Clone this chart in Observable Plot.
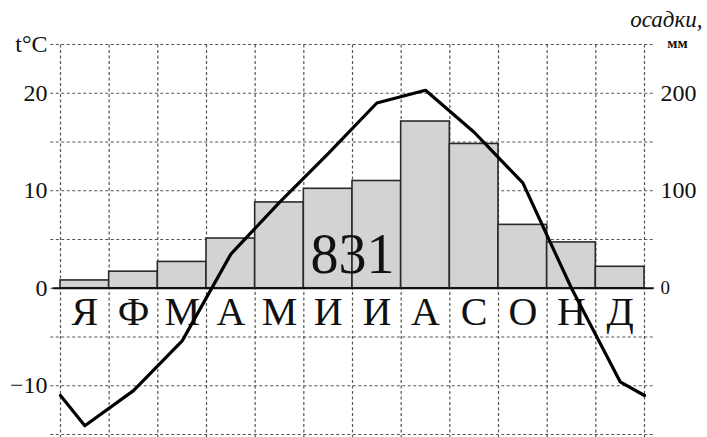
<!DOCTYPE html>
<html>
<head>
<meta charset="utf-8">
<script src="https://cdn.jsdelivr.net/npm/d3@7"></script>
<script src="https://cdn.jsdelivr.net/npm/@observablehq/plot@0.6"></script>
<style>
  html, body { margin: 0; padding: 0; background: #fff; }
  svg { display: block; }
</style>
</head>
<body>
<div id="chart"></div>
<script>
// Months (Russian initials)
const months = ["Я", "Ф", "М", "А", "М", "И", "И", "А", "С", "О", "Н", "Д"];
// Monthly precipitation, mm
const precip = [8, 17, 27, 51, 88, 102, 110, 171, 148, 65, 47, 22];
// Monthly mean temperature, °C (at month centres)
const temp = [-14.1, -10.5, -5.4, 3.5, 8.8, 13.8, 19.0, 20.3, 16.0, 10.8, 0.0, -9.6];
// Temperature at the year boundary (Dec/Jan), drawn at both edges
const tempEdge = -11;
// Annual precipitation total
const annualTotal = "831";
// Axis ticks
const tempTicks = [20, 10, 0, -10];
const tempTickLabels = ["20", "10", "0", "−10"];
const precipTicks = [200, 100, 0];
const precipTickLabels = ["200", "100", "0"];
const gridTemps = [-15, -10, -5, 0, 5, 10, 15, 20, 25];
const monthEdges = [0, 1, 2, 3, 4, 5, 6, 7, 8, 9, 10, 11, 12];
const tempTitle = "t°C";
const precipTitle = "осадки,";
const precipUnit = "мм";

// mm -> °C scale factor (10 mm per 1 °C)
const mmPerDeg = 10;

const bars = precip.map((p, i) => ({ x1: i, x2: i + 1, y: p / mmPerDeg }));
const linePts = [{ x: 0, t: tempEdge }]
  .concat(temp.map((t, i) => ({ x: i + 0.5, t })))
  .concat([{ x: 12, t: tempEdge }]);
const monthLabels = months.map((m, i) => ({ x: i + 0.5, m }));
const leftTicks = tempTicks.map((v, i) => ({ y: v, label: tempTickLabels[i] }));
const rightTicks = precipTicks.map((v, i) => ({ y: v / mmPerDeg, label: precipTickLabels[i], small: v === 0 }));

const gridColor = "#555";

const chart = Plot.plot({
  width: 707,
  height: 437,
  marginLeft: 60,
  marginRight: 63,
  marginTop: 44,
  marginBottom: 3,
  x: { domain: [0, 12], axis: null },
  y: { domain: [-15, 25], axis: null },
  style: { fontFamily: "Liberation Serif", background: "#fff", color: "#111" },
  marks: [
    // horizontal dotted grid (extending a bit past the plot as ticks)
    Plot.ruleY(gridTemps, { x1: -0.2, x2: 12.22, stroke: gridColor, strokeWidth: 1.2, strokeDasharray: "3,2.5" }),
    // vertical dotted grid at month boundaries
    Plot.ruleX(monthEdges, { y1: -15.4, y2: 25, stroke: gridColor, strokeWidth: 1.2, strokeDasharray: "3,2.5" }),
    // precipitation bars
    Plot.rect(bars, { x1: "x1", x2: "x2", y1: 0, y2: "y", fill: "#d3d3d3", stroke: "#2a2a2a", strokeWidth: 1.6 }),
    // zero line
    Plot.ruleY([0], { x1: -0.15, x2: 12.2, stroke: "#111", strokeWidth: 1.8 }),
    // month labels
    Plot.text(monthLabels, { x: "x", y: 0, text: "m", fontSize: 40, lineAnchor: "top", dy: 8, fill: "#111" }),
    // annual total
    Plot.text([annualTotal], { x: 6, y: 0, text: d => d, fontSize: 56, lineAnchor: "middle", dy: -33, fill: "#111" }),
    // temperature line
    Plot.line(linePts, { x: "x", y: "t", stroke: "#000", strokeWidth: 3.2, strokeLinejoin: "round" }),
    // left tick labels
    Plot.text(leftTicks, { x: 0, y: "y", text: "label", textAnchor: "end", dx: -13, fontSize: 24, fill: "#111" }),
    Plot.text([tempTitle], { x: 0, y: 25, text: d => d, textAnchor: "end", dx: -13, fontSize: 24, fill: "#111" }),
    // right tick labels
    Plot.text(rightTicks, { x: 12, y: "y", text: "label", textAnchor: "start", dx: 16, fontSize: d => d.small ? 19 : 24, fill: "#111" }),
    Plot.text([precipTitle], { x: 12, y: 25, text: d => d, textAnchor: "end", dx: 58, dy: -25, fontSize: 23, fontStyle: "italic", fill: "#111" }),
    Plot.text([precipUnit], { x: 12, y: 25, text: d => d, textAnchor: "middle", dx: 33, dy: -1, fontSize: 15, fontWeight: "bold", fill: "#111" })
  ]
});

document.getElementById("chart").appendChild(chart);
</script>
</body>
</html>
